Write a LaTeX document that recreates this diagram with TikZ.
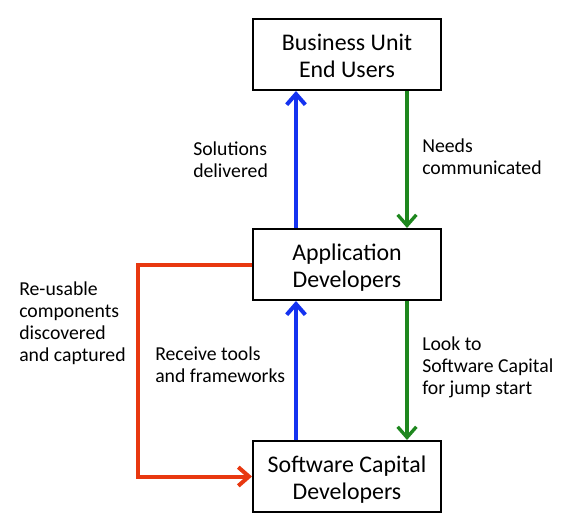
\documentclass[tikz,border=0pt]{standalone}
\usepackage{fontspec}
\setmainfont{Carlito}
\usetikzlibrary{arrows.meta}
\definecolor{cblue}{RGB}{20,50,240}
\definecolor{cgreen}{RGB}{30,135,30}
\definecolor{cred}{RGB}{232,56,16}
\newcommand{\boxstrut}{\rule[-3.375pt]{0pt}{20.25pt}}
\newcommand{\lblstrut}{\rule[-4.5pt]{0pt}{16.5pt}}
\tikzset{
  box/.style={draw, line width=1.5pt, minimum width=141pt, minimum height=53.25pt,
    inner sep=0pt, align=center, font=\fontsize{17.9pt}{20.25pt}\selectfont},
  lbl/.style={inner sep=0pt, anchor=north west, align=left,
    font=\fontsize{14.8pt}{16.5pt}\selectfont},
  flow/.style={line width=3pt, -{Straight Barb[length=8pt,width=14pt]}},
}
\begin{document}
\begin{tikzpicture}[x=0.75pt,y=-0.75pt]
\useasboundingbox (0,0) rectangle (570,528);
\node[box] (top) at (347,54.5) {\boxstrut Business Unit\\\boxstrut End Users};
\node[box] (app) at (347,264.5) {\boxstrut Application\\\boxstrut Developers};
\node[box] (scd) at (347,476.5) {\boxstrut Software Capital\\\boxstrut Developers};
\coordinate (bx) at (296,0);
\coordinate (gx) at (407,0);
\coordinate (rx) at (138,0);
\draw[flow,cblue] (app.north -| bx) -- (top.south -| bx);
\draw[flow,cgreen,line width=2.5pt] (top.south -| gx) -- (app.north -| gx);
\draw[flow,cblue] (scd.north -| bx) -- (app.south -| bx);
\draw[flow,cgreen,line width=2.5pt] (app.south -| gx) -- (scd.north -| gx);
\draw[flow,cred] (app.west) -- (app.west -| rx) -- (scd.west -| rx) -- (scd.west);
\node[lbl] (l1) at (193,139) {\lblstrut Solutions\\\lblstrut delivered};
\node[lbl] (l2) at (422,136.5) {\lblstrut Needs\\\lblstrut communicated};
\node[lbl] (l3) at (19,279) {\lblstrut Re-usable\\\lblstrut components\\\lblstrut discovered\\\lblstrut and captured};
\node[lbl] (l4) at (155,344.7) {\lblstrut Receive tools\\\lblstrut and frameworks};
\node[lbl] (l5) at (422,334) {\lblstrut Look to\\\lblstrut Software Capital\\\lblstrut for jump start};
\end{tikzpicture}
\end{document}
